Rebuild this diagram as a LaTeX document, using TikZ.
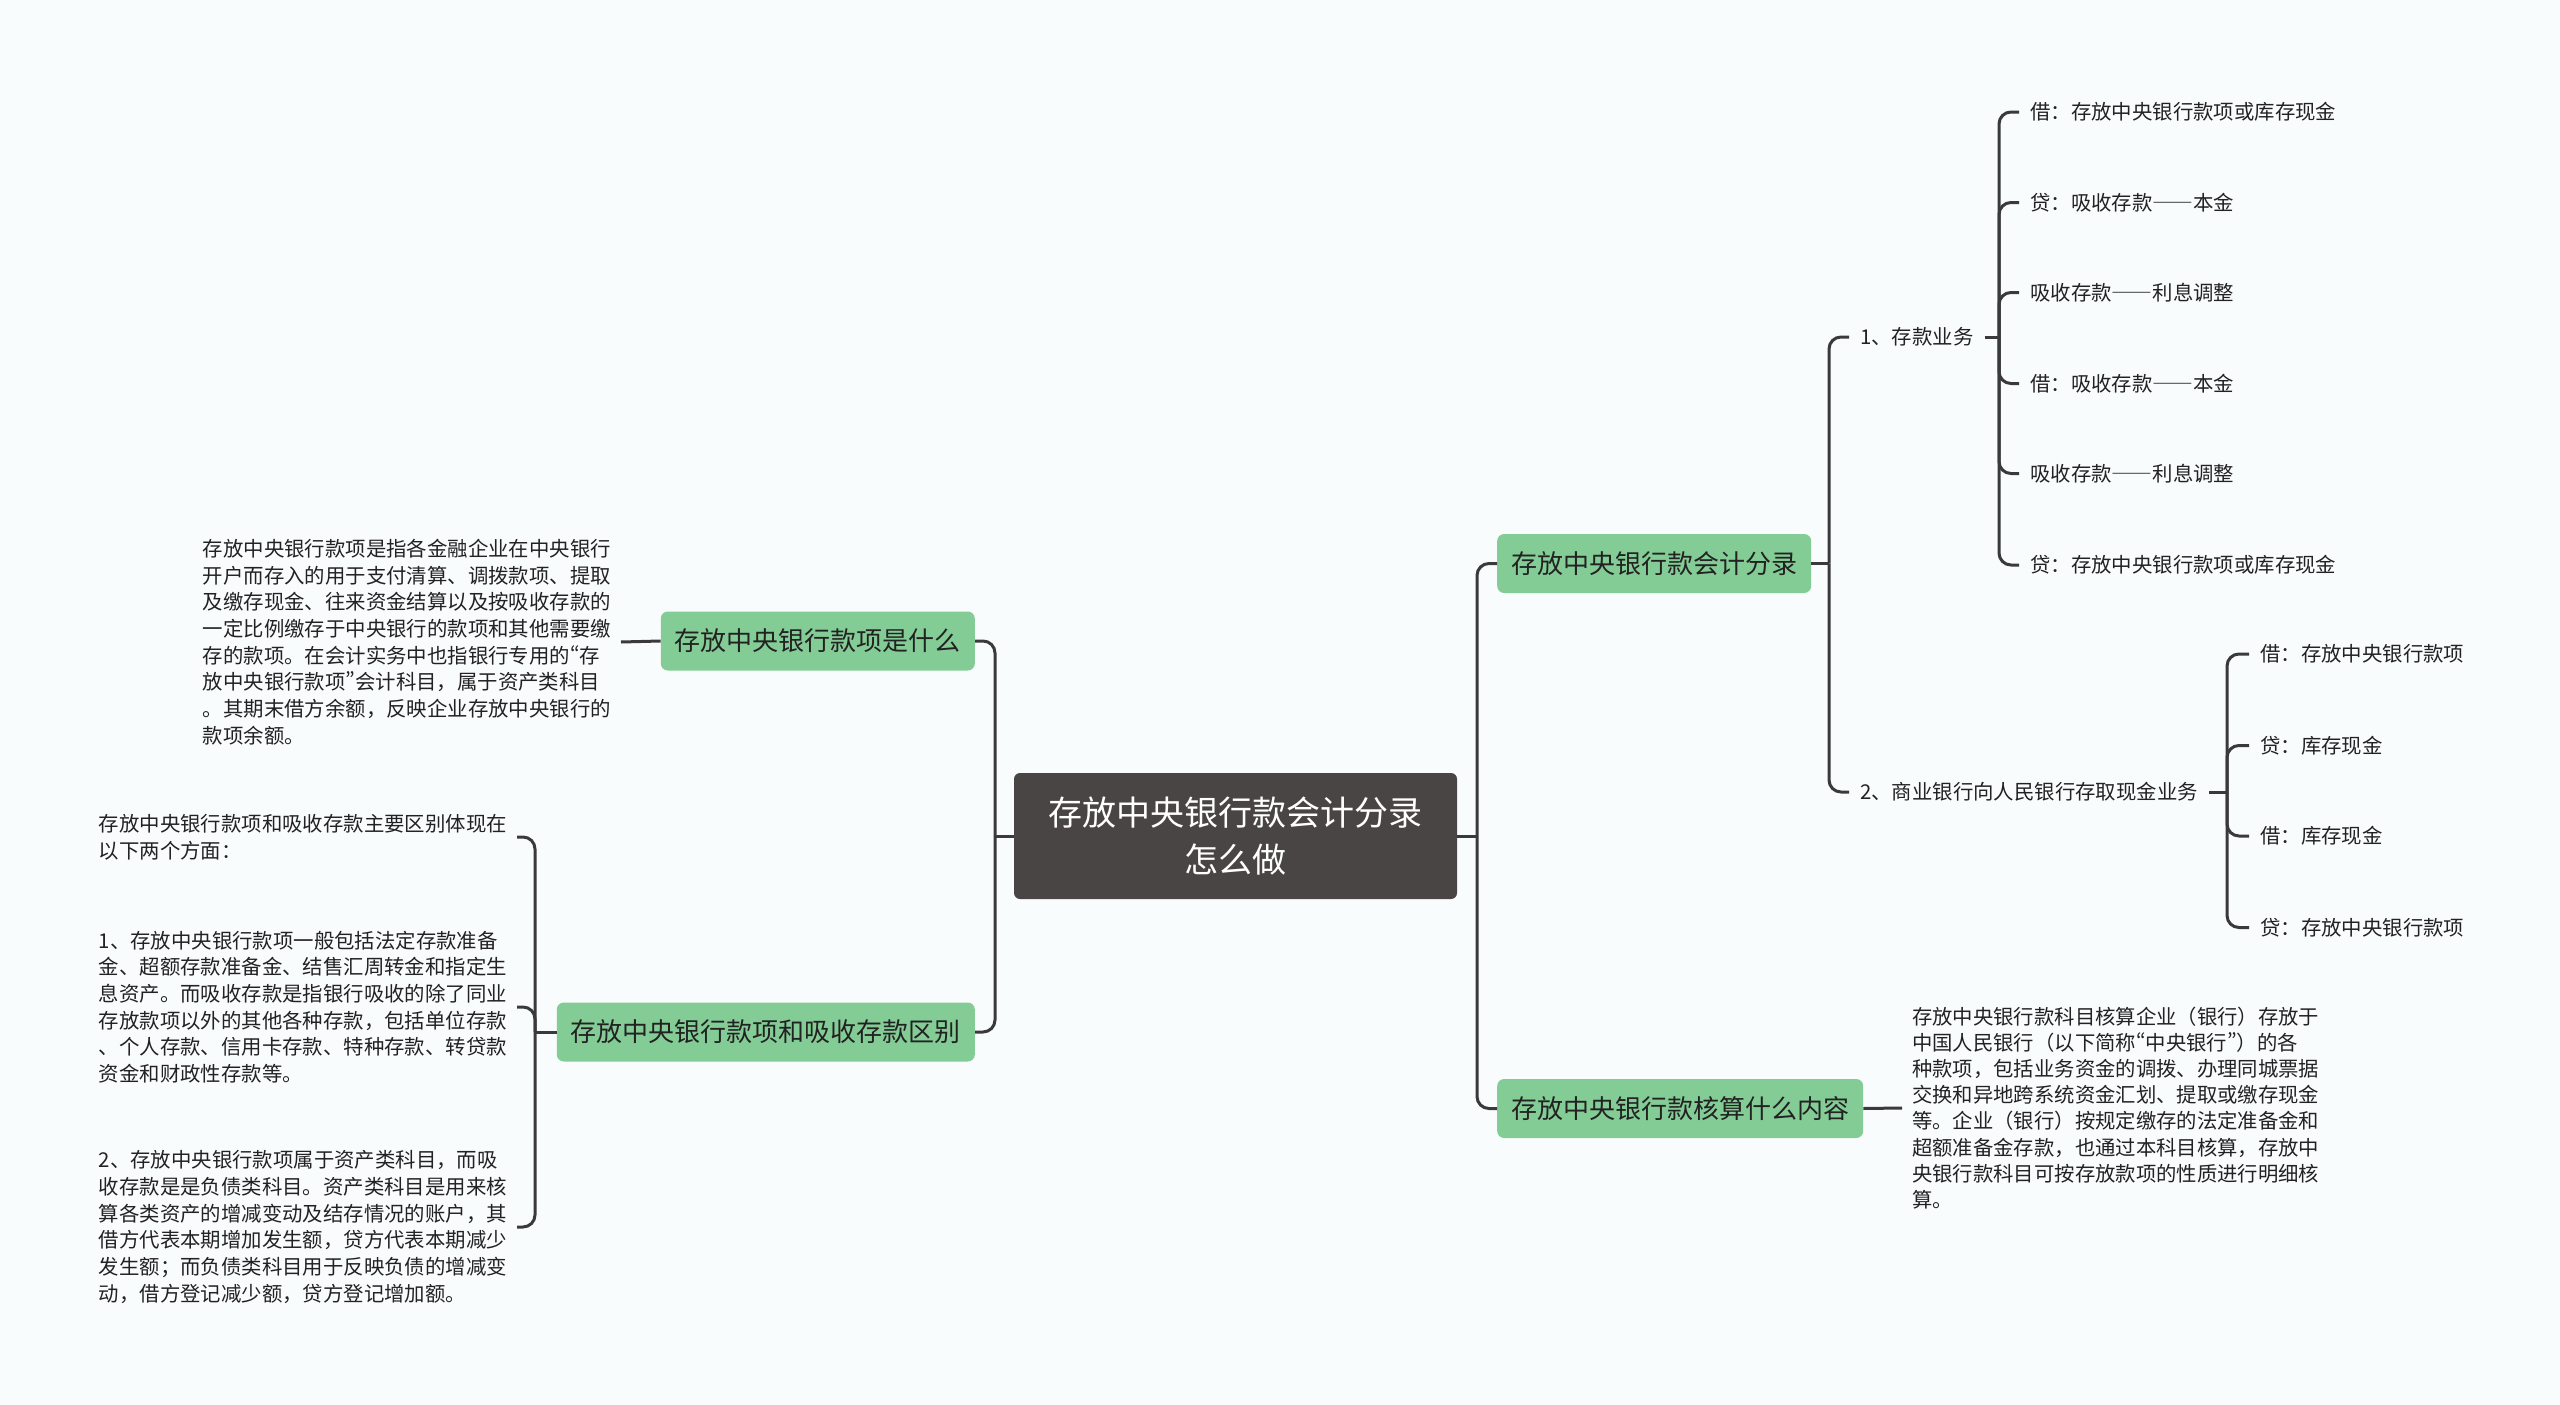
\documentclass[tikz,border=0pt]{standalone}
\usepackage{fontspec}
\setmainfont{Noto Sans CJK SC}
\newcommand{\fwdash}{{\addfontfeature{RawFeature=+fwid}——}}
\newcommand{\myqopen}{{\addfontfeature{RawFeature=+pwid}“}}
\newcommand{\myqclose}{{\addfontfeature{RawFeature=+pwid}”}}
\definecolor{bgc}{RGB}{249,252,253}
\definecolor{rootc}{RGB}{74,69,69}
\definecolor{greenc}{RGB}{132,204,150}
\definecolor{linec}{RGB}{58,58,58}
\definecolor{txtc}{RGB}{34,34,34}
\begin{document}
\begin{tikzpicture}[x=1pt,y=-1pt,
  rootbox/.style={fill=rootc, text=white, rounded corners=6pt, minimum width=443pt, minimum height=126pt, align=center, inner sep=0pt, font=\fontsize{34}{47}\selectfont},
  topic/.style={fill=greenc, text=txtc, rounded corners=7pt, minimum height=59pt, inner xsep=14pt, inner ysep=0pt, font=\fontsize{26}{30}\selectfont},
  leaf/.style={text=txtc, inner xsep=11pt, inner ysep=2pt, font=\fontsize{20.4}{24}\selectfont},
  para/.style={text=txtc, align=left, inner xsep=10pt, inner ysep=0pt, font=\fontsize{20.4}{26.7}\selectfont},
  conn/.style={draw=linec, line width=3pt, rounded corners=12pt},
  stub/.style={draw=linec, line width=3pt}]
\fill[bgc] (0,0) rectangle (2560,1405);
\useasboundingbox (0,0) rectangle (2560,1405);

% root
\node[rootbox] (root) at (1235.5,836) {存放中央银行款会计分录\\怎么做};

% left topics
\node[topic, anchor=east] (L1) at (975,641) {存放中央银行款项是什么};
\node[topic, anchor=east] (L2) at (975,1032) {存放中央银行款项和吸收存款区别};

% right topics
\node[topic, anchor=west] (R1) at (1497,563.5) {存放中央银行款会计分录};
\node[topic, anchor=west] (R2) at (1497,1108.5) {存放中央银行款核算什么内容};

% left texts
\node[para, anchor=east] (TL) at (621,642) {存放中央银行款项是指各金融企业在中央银行\\开户而存入的用于支付清算、调拨款项、提取\\及缴存现金、往来资金结算以及按吸收存款的\\一定比例缴存于中央银行的款项和其他需要缴\\存的款项。在会计实务中也指银行专用的\myqopen 存\\放中央银行款项\myqclose 会计科目，属于资产类科目\\。其期末借方余额，反映企业存放中央银行的\\款项余额。};

\node[para, anchor=east] (B1) at (517,837) {存放中央银行款项和吸收存款主要区别体现在\\以下两个方面：};
\node[para, anchor=east] (B2) at (517,1007) {1、存放中央银行款项一般包括法定存款准备\\金、超额存款准备金、结售汇周转金和指定生\\息资产。而吸收存款是指银行吸收的除了同业\\存放款项以外的其他各种存款，包括单位存款\\、个人存款、信用卡存款、特种存款、转贷款\\资金和财政性存款等。};
\node[para, anchor=east] (B3) at (517,1227) {2、存放中央银行款项属于资产类科目，而吸\\收存款是是负债类科目。资产类科目是用来核\\算各类资产的增减变动及结存情况的账户，其\\借方代表本期增加发生额，贷方代表本期减少\\发生额；而负债类科目用于反映负债的增减变\\动，借方登记减少额，贷方登记增加额。};

% right sub nodes
\node[leaf, anchor=west] (S1) at (1849,337) {1、存款业务};
\node[leaf, anchor=west] (S2) at (1849,792) {2、商业银行向人民银行存取现金业务};

\node[leaf, anchor=west] (A1) at (2019,112) {借：存放中央银行款项或库存现金};
\node[leaf, anchor=west] (A2) at (2019,202.5) {贷：吸收存款\fwdash 本金};
\node[leaf, anchor=west] (A3) at (2019,292.5) {吸收存款\fwdash 利息调整};
\node[leaf, anchor=west] (A4) at (2019,383.5) {借：吸收存款\fwdash 本金};
\node[leaf, anchor=west] (A5) at (2019,473.5) {吸收存款\fwdash 利息调整};
\node[leaf, anchor=west] (A6) at (2019,565) {贷：存放中央银行款项或库存现金};

\node[leaf, anchor=west] (C1) at (2249,654) {借：存放中央银行款项};
\node[leaf, anchor=west] (C2) at (2249,745.5) {贷：库存现金};
\node[leaf, anchor=west] (C3) at (2249,836) {借：库存现金};
\node[leaf, anchor=west] (C4) at (2249,927.5) {贷：存放中央银行款项};

\node[para, anchor=west, font=\fontsize{20.35}{26.2}\selectfont] (TR) at (1902,1108) {存放中央银行款科目核算企业（银行）存放于\\中国人民银行（以下简称\myqopen 中央银行\myqclose ）的各\\种款项，包括业务资金的调拨、办理同城票据\\交换和异地跨系统资金汇划、提取或缴存现金\\等。企业（银行）按规定缴存的法定准备金和\\超额准备金存款，也通过本科目核算，存放中\\央银行款科目可按存放款项的性质进行明细核\\算。};

% connectors: root left
\coordinate (jl) at (995,836);
\draw[stub] (root.west) -- (jl);
\draw[conn] (jl) |- (L1.east);
\draw[conn] (jl) |- (L2.east);
% root right
\coordinate (jr) at (1477,836);
\draw[stub] (root.east) -- (jr);
\draw[conn] (jr) |- (R1.west);
\draw[conn] (jr) |- (R2.west);
% L1 to text
\draw[stub] (L1.west) -- (TL.east);
% L2 to texts
\coordinate (jb) at (535,1032);
\draw[stub] (L2.west) -- (jb);
\draw[conn] (jb) |- (B1.east);
\draw[conn] (jb) |- (B2.east);
\draw[conn] (jb) |- (B3.east);
% R1 to subs
\coordinate (js) at (1829,563.5);
\draw[stub] (R1.east) -- (js);
\draw[conn] (js) |- (S1.west);
\draw[conn] (js) |- (S2.west);
% S1 to leaves
\coordinate (ja) at (1999,337);
\draw[stub] (S1.east) -- (ja);
\foreach \n in {A1,A2,A3,A4,A5,A6} \draw[conn] (ja) |- (\n.west);
% S2 to leaves
\coordinate (jc) at (2227,792);
\draw[stub] (S2.east) -- (jc);
\foreach \n in {C1,C2,C3,C4} \draw[conn] (jc) |- (\n.west);
% R2 to text
\draw[stub] (R2.east) -- (TR.west);
\end{tikzpicture}
\end{document}
